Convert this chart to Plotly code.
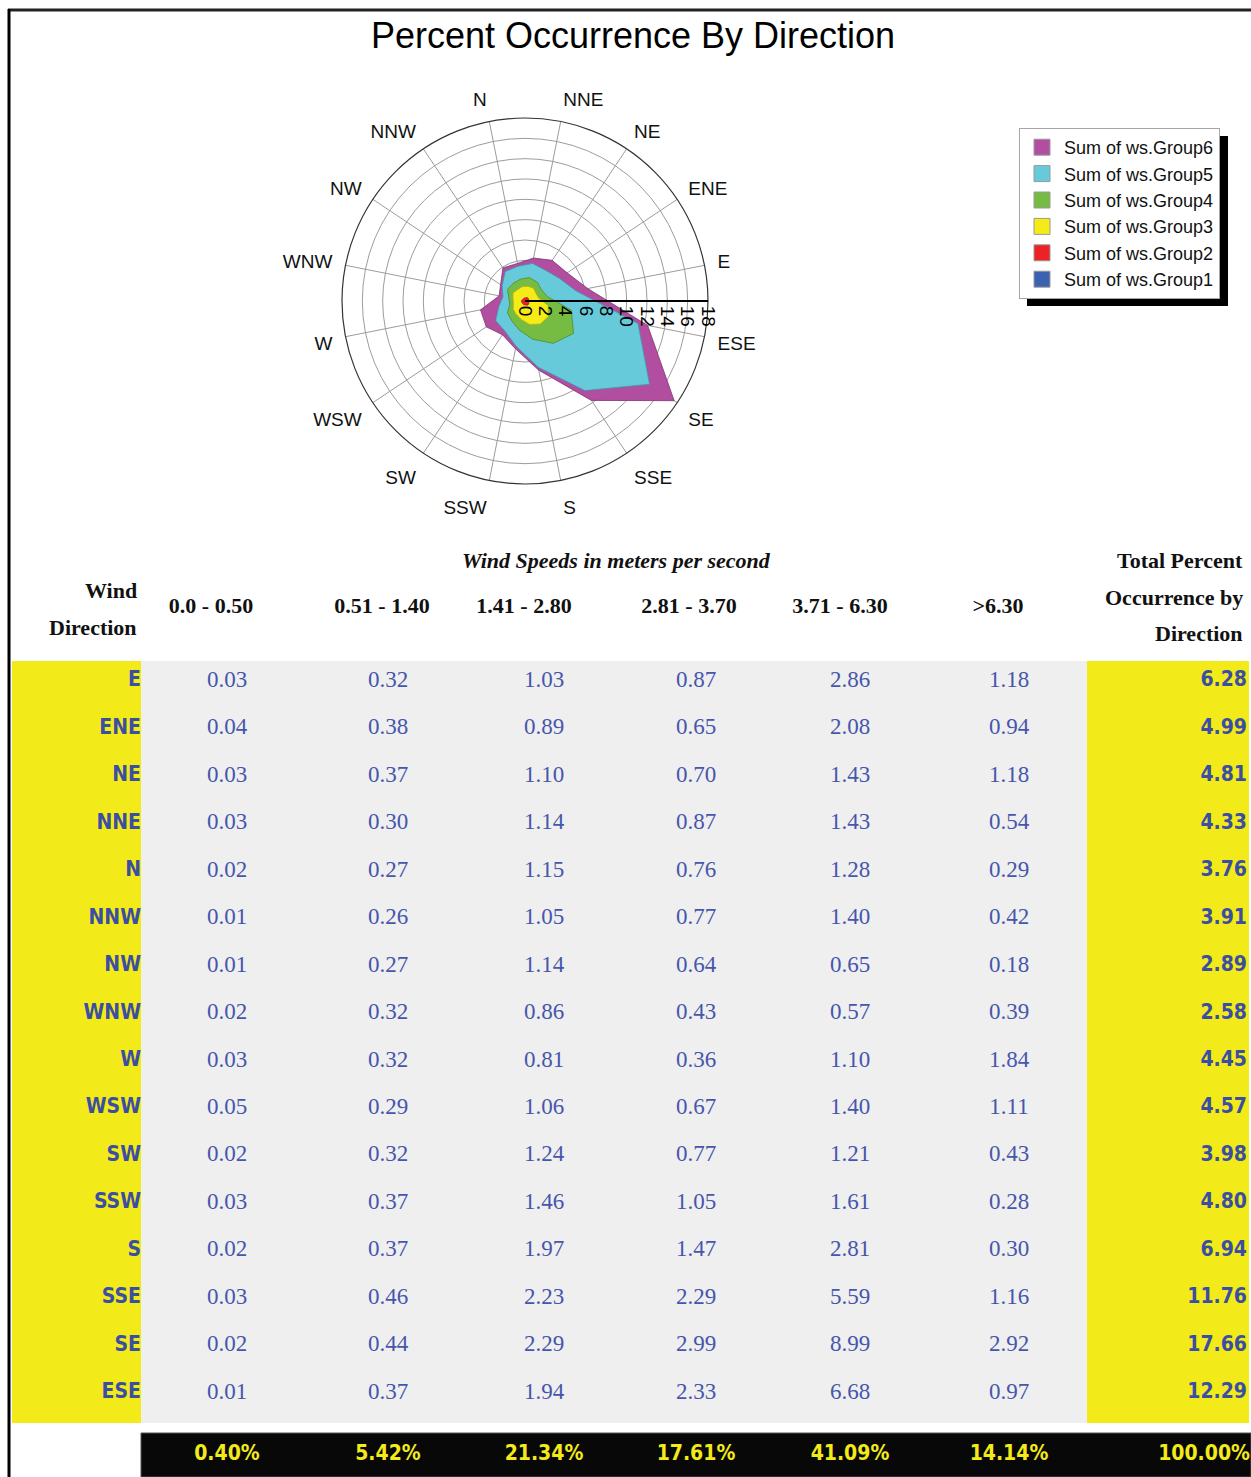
import numpy as np
import plotly.graph_objects as go

# ---- data -------------------------------------------------------------
directions = ["E", "ENE", "NE", "NNE", "N", "NNW", "NW", "WNW",
              "W", "WSW", "SW", "SSW", "S", "SSE", "SE", "ESE"]
compass = ["N", "NNE", "NE", "ENE", "E", "ESE", "SE", "SSE",
           "S", "SSW", "SW", "WSW", "W", "WNW", "NW", "NNW"]
speed_bins = ["0.0 - 0.50", "0.51 - 1.40", "1.41 - 2.80",
              "2.81 - 3.70", "3.71 - 6.30", ">6.30"]
group_names = ["Sum of ws.Group1", "Sum of ws.Group2", "Sum of ws.Group3",
               "Sum of ws.Group4", "Sum of ws.Group5", "Sum of ws.Group6"]

group1 = [0.03, 0.04, 0.03, 0.03, 0.02, 0.01, 0.01, 0.02, 0.03, 0.05, 0.02, 0.03, 0.02, 0.03, 0.02, 0.01]
group2 = [0.32, 0.38, 0.37, 0.30, 0.27, 0.26, 0.27, 0.32, 0.32, 0.29, 0.32, 0.37, 0.37, 0.46, 0.44, 0.37]
group3 = [1.03, 0.89, 1.10, 1.14, 1.15, 1.05, 1.14, 0.86, 0.81, 1.06, 1.24, 1.46, 1.97, 2.23, 2.29, 1.94]
group4 = [0.87, 0.65, 0.70, 0.87, 0.76, 0.77, 0.64, 0.43, 0.36, 0.67, 0.77, 1.05, 1.47, 2.29, 2.99, 2.33]
group5 = [2.86, 2.08, 1.43, 1.43, 1.28, 1.40, 0.65, 0.57, 1.10, 1.40, 1.21, 1.61, 2.81, 5.59, 8.99, 6.68]
group6 = [1.18, 0.94, 1.18, 0.54, 0.29, 0.42, 0.18, 0.39, 1.84, 1.11, 0.43, 0.28, 0.30, 1.16, 2.92, 0.97]
direction_totals = [6.28, 4.99, 4.81, 4.33, 3.76, 3.91, 2.89, 2.58,
                    4.45, 4.57, 3.98, 4.80, 6.94, 11.76, 17.66, 12.29]
bin_totals = [0.40, 5.42, 21.34, 17.61, 41.09, 14.14]
grand_total = 100.00

groups = [group1, group2, group3, group4, group5, group6]

# ---- styling ----------------------------------------------------------
group_colors = ["#3B62AE", "#EC2227", "#F5EC17", "#76BC43", "#66CADB", "#B24E9F"]
group_lines = ["#2a4a86", "#a81a1e", "#b9b20f", "#4f8a2a", "#3f9aab", "#7f3572"]
YELLOW = "#F3EA1A"
GREY = "#EFEFEF"
BLUE_BOLD = "#3A4EA2"
BLUE_TEXT = "#4656AC"
SANS = "Liberation Sans, Arial, sans-serif"
NARROW = "Liberation Sans Narrow, Arial Narrow, DejaVu Sans Condensed, sans-serif"
SERIF = "Liberation Serif, Times New Roman, serif"

W, H = 1251, 1477
ROW_PX = 47.47          # row pitch of the table, px
ROW0_PX = 681           # centre of first table row, px
TABLE_TOP_PX = 535      # top of table subplot, px


def row(px):
    """Convert a page y position (px) to table row units."""
    return (px - ROW0_PX) / ROW_PX


col_x = [227, 388, 544, 696, 850, 1009]
head_x = [211, 382, 524, 689, 840, 998]

fig = go.Figure()

# ---- wind rose: stacked cumulative areas, outermost first -------------
cum = np.cumsum(np.array(groups), axis=0)
theta_closed = directions + directions[:1]
for k in range(5, -1, -1):
    r_closed = list(cum[k]) + [cum[k][0]]
    fig.add_trace(go.Scatterpolar(
        r=r_closed, theta=theta_closed, mode="lines", fill="toself",
        fillcolor=group_colors[k], line=dict(color=group_lines[k], width=0.8),
        name=group_names[k], legendgroup=group_names[k], showlegend=False,
        hoverinfo="skip",
    ))
# legend entries as square swatches
for k in range(5, -1, -1):
    fig.add_trace(go.Scatterpolar(
        r=[None], theta=[None], mode="markers",
        marker=dict(symbol="square", size=17, color=group_colors[k],
                    line=dict(color="#9a9a9a", width=1)),
        name=group_names[k], legendgroup=group_names[k], showlegend=True,
    ))

# ---- table body ---------------------------------------------------------
rows = list(range(len(directions)))
bold_narrow = dict(family=NARROW, size=21, color=BLUE_BOLD, weight="bold")
fig.add_trace(go.Scatter(
    x=[141] * len(rows), y=rows, mode="text", text=directions,
    textposition="middle left", textfont=bold_narrow,
    xaxis="x2", yaxis="y2", showlegend=False, hoverinfo="skip"))
for j, vals in enumerate(groups):
    fig.add_trace(go.Scatter(
        x=[col_x[j]] * len(rows), y=rows, mode="text",
        text=[f"{v:.2f}" for v in vals], textposition="middle center",
        textfont=dict(family=SERIF, size=23, color=BLUE_TEXT),
        xaxis="x2", yaxis="y2", showlegend=False, hoverinfo="skip"))
fig.add_trace(go.Scatter(
    x=[1247] * len(rows), y=rows, mode="text",
    text=[f"{v:.2f}" for v in direction_totals], textposition="middle left",
    textfont=bold_narrow,
    xaxis="x2", yaxis="y2", showlegend=False, hoverinfo="skip"))

# totals strip
total_y = row(1455)
total_font = dict(family=NARROW, size=21, color=YELLOW, weight="bold")
fig.add_trace(go.Scatter(
    x=col_x, y=[total_y] * len(bin_totals), mode="text",
    text=[f"{v:.2f}%" for v in bin_totals], textposition="middle center",
    textfont=total_font,
    xaxis="x2", yaxis="y2", showlegend=False, hoverinfo="skip"))
fig.add_trace(go.Scatter(
    x=[1250], y=[total_y], mode="text", text=[f"{grand_total:.2f}%"],
    textposition="middle left", textfont=total_font,
    xaxis="x2", yaxis="y2", showlegend=False, hoverinfo="skip"))

# column headers
fig.add_trace(go.Scatter(
    x=head_x, y=[row(607)] * len(speed_bins), mode="text", text=speed_bins,
    textposition="middle center",
    textfont=dict(family=SERIF, size=22, color="#111111", weight="bold"),
    xaxis="x2", yaxis="y2", showlegend=False, hoverinfo="skip"))

# ---- shapes -----------------------------------------------------------
shapes = [
    # table backgrounds
    dict(type="rect", xref="x2", yref="y2", x0=12, x1=141, y0=row(661), y1=row(1423),
         fillcolor=YELLOW, line=dict(width=0), layer="below"),
    dict(type="rect", xref="x2", yref="y2", x0=141, x1=1087, y0=row(661), y1=row(1423),
         fillcolor=GREY, line=dict(width=0), layer="below"),
    dict(type="rect", xref="x2", yref="y2", x0=1087, x1=1249, y0=row(661), y1=row(1423),
         fillcolor=YELLOW, line=dict(width=0), layer="below"),
    dict(type="rect", xref="x2", yref="y2", x0=141, x1=1251, y0=row(1433), y1=row(1477),
         fillcolor="#080808", line=dict(color="#555", width=1), layer="below"),
    # legend drop shadow
    dict(type="rect", xref="paper", yref="paper",
         x0=1027 / W, x1=1228 / W, y0=1 - 306 / H, y1=1 - 136 / H,
         fillcolor="#000000", line=dict(width=0), layer="above"),
    # page frame
    dict(type="line", xref="paper", yref="paper", x0=8 / W, x1=1, y0=1 - 10 / H, y1=1 - 10 / H,
         line=dict(color="#222222", width=3)),
    dict(type="line", xref="paper", yref="paper", x0=9 / W, x1=9 / W, y0=0, y1=1 - 9 / H,
         line=dict(color="#000000", width=3)),
]

# ---- header annotations ------------------------------------------------
head_font = dict(family=SERIF, size=22, color="#111111", weight="bold")
annotations = [
    dict(text="<i>Wind Speeds in meters per second</i>", x=616, y=row(560),
         xref="x2", yref="y2", showarrow=False, xanchor="center", yanchor="middle",
         font=head_font),
    dict(text="Wind", x=139, y=row(590), xref="x2", yref="y2", showarrow=False,
         xanchor="right", yanchor="middle", font=head_font),
    dict(text="Direction", x=139, y=row(627), xref="x2", yref="y2", showarrow=False,
         xanchor="right", yanchor="middle", font=head_font),
    dict(text="Total Percent", x=1245, y=row(560), xref="x2", yref="y2", showarrow=False,
         xanchor="right", yanchor="middle", font=head_font),
    dict(text="Occurrence by", x=1245, y=row(597), xref="x2", yref="y2", showarrow=False,
         xanchor="right", yanchor="middle", font=head_font),
    dict(text="Direction", x=1245, y=row(633), xref="x2", yref="y2", showarrow=False,
         xanchor="right", yanchor="middle", font=head_font),
]

# ---- layout -----------------------------------------------------------
cx, cy, rad = 525, 301, 183
fig.update_layout(
    width=W, height=H, margin=dict(l=0, r=0, t=0, b=0),
    paper_bgcolor="white", plot_bgcolor="white",
    title=dict(text="Percent Occurrence By Direction", x=633 / W, y=1 - 35 / H,
               xanchor="center", yanchor="middle",
               font=dict(family=SANS, size=36, color="#000000")),
    polar=dict(
        domain=dict(x=[(cx - rad) / W, (cx + rad) / W],
                    y=[1 - (cy + rad) / H, 1 - (cy - rad) / H]),
        bgcolor="white",
        angularaxis=dict(
            type="category", categoryarray=compass, rotation=101.25,
            direction="clockwise", showline=True, linecolor="#333333", linewidth=1.2,
            showgrid=True, gridcolor="#9c9c9c", gridwidth=1,
            ticks="outside", ticklen=9, tickcolor="rgba(0,0,0,0)",
            tickfont=dict(family=SANS, size=19, color="#111111"),
            layer="above traces"),
        radialaxis=dict(
            range=[0, 18], tick0=0, dtick=2, angle=0, side="clockwise",
            showline=True, linecolor="#000000", linewidth=2,
            showgrid=True, gridcolor="#9c9c9c", gridwidth=1,
            ticks="", tickangle=90,
            tickfont=dict(family=SANS, size=19, color="#000000"),
            layer="above traces"),
    ),
    xaxis2=dict(domain=[0, 1], range=[0, W], visible=False, fixedrange=True, anchor="y2"),
    yaxis2=dict(domain=[0, 1 - TABLE_TOP_PX / H], range=[row(H), row(TABLE_TOP_PX)],
                visible=False, fixedrange=True, anchor="x2"),
    legend=dict(x=1019 / W, y=1 - 128 / H, xanchor="left", yanchor="top",
                bgcolor="white", bordercolor="#a6a6a6", borderwidth=1,
                font=dict(family=SANS, size=18, color="#111111"),
                tracegroupgap=0, itemwidth=34),
    shapes=shapes,
    annotations=annotations,
    showlegend=True,
)

fig.write_html("out.html")
